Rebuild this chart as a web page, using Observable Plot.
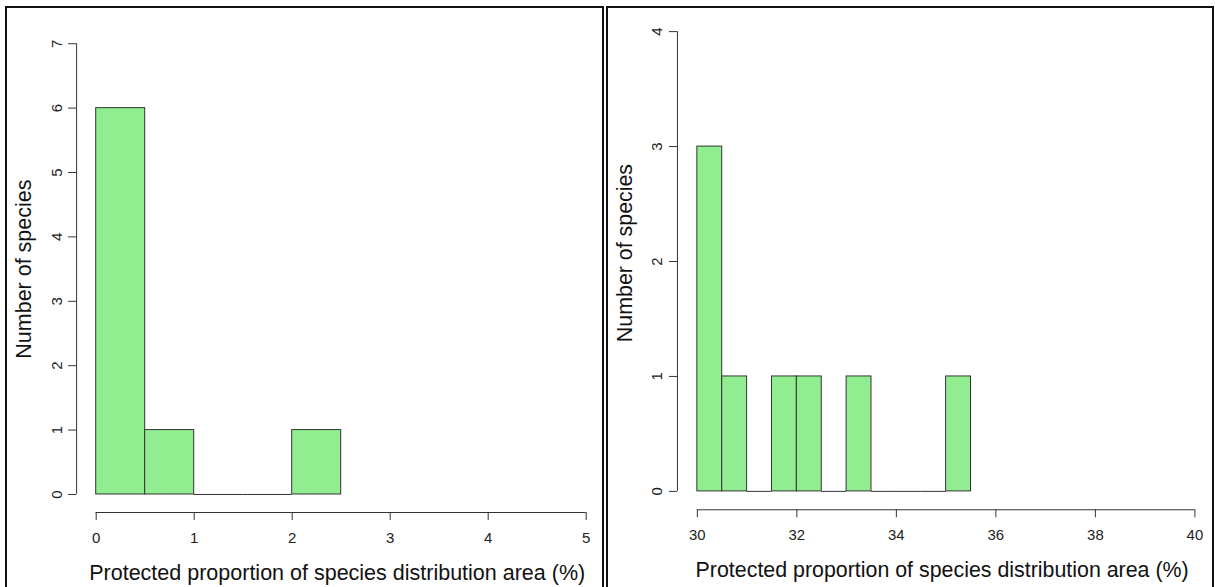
<!DOCTYPE html>
<html><head><meta charset="utf-8">
<script src="https://cdn.jsdelivr.net/npm/d3@7"></script>
<script src="https://cdn.jsdelivr.net/npm/@observablehq/plot@0.6"></script>
<style>
html,body{margin:0;padding:0;background:#fff;overflow:hidden;width:1215px;height:587px;}
.panel{position:absolute;top:0;}
.box{position:absolute;border:2px solid #111;box-sizing:border-box;pointer-events:none;}
</style></head><body>
<div id="left" class="panel" style="left:0px"></div>
<div id="right" class="panel" style="left:606px"></div>
<div class="box" style="left:5px;top:6px;width:599px;height:600px"></div>
<div class="box" style="left:606px;top:6px;width:608px;height:600px"></div>
<script>
const xTitle = "Protected proportion of species distribution area (%)";
const yTitle = "Number of species";
const binWidth = 0.5;
const leftBinStarts = [0, 0.5, 1, 1.5, 2];
const leftCounts = [6, 1, 0, 0, 1];
const leftXTicks = [0, 1, 2, 3, 4, 5];
const leftYTicks = [0, 1, 2, 3, 4, 5, 6, 7];
const rightBinStarts = [30, 30.5, 31, 31.5, 32, 32.5, 33, 33.5, 34, 34.5, 35];
const rightCounts = [3, 1, 0, 1, 1, 0, 1, 0, 0, 0, 1];
const rightXTicks = [30, 32, 34, 36, 38, 40];
const rightYTicks = [0, 1, 2, 3, 4];

const FONT = "'Liberation Sans', Arial, Helvetica, sans-serif";
const INK = "#333";

function ext(ticks) {
  const lo = d3.min(ticks), hi = d3.max(ticks), e = 0.04 * (hi - lo);
  return [lo - e, hi + e];
}

function panel(o) {
  const bins = o.starts.map((s, i) => ({x1: s, x2: s + binWidth, count: o.counts[i]}));
  const xd = ext(o.xTicks), yd = ext(o.yTicks);
  return Plot.plot({
    width: o.width, height: o.height,
    marginLeft: o.ml, marginRight: o.mr, marginTop: o.mt, marginBottom: o.mb,
    style: {fontFamily: FONT, background: "transparent", overflow: "visible"},
    x: {domain: xd}, y: {domain: yd},
    marks: [
      Plot.rectY(bins.filter(d => d.count > 0), {x1: "x1", x2: "x2", y1: 0, y2: "count", inset: 0, fill: "#90EE90", stroke: INK, strokeWidth: 1}),
      Plot.ruleY(bins.filter(d => d.count === 0), {x1: "x1", x2: "x2", y: "count", stroke: INK, strokeWidth: 1}),
      Plot.ruleX([xd[0]], {y1: d3.min(o.yTicks), y2: d3.max(o.yTicks), stroke: INK}),
      Plot.ruleY([yd[0]], {x1: d3.min(o.xTicks), x2: d3.max(o.xTicks), stroke: INK}),
      Plot.axisX({ticks: o.xTicks, tickFormat: d => String(d), tickSize: 8, tickPadding: 12, fontSize: 15, stroke: INK, fill: "#222", label: null}),
      Plot.axisY({ticks: o.yTicks, tickFormat: d => String(d), tickSize: 8, tickPadding: o.ytp, tickRotate: -90, fontSize: 15, stroke: INK, fill: "#222", label: null}),
      Plot.text([xTitle], {frameAnchor: "bottom", text: d => d, lineAnchor: "top", dy: o.xtDy, dx: -4, fontSize: 21.5, fill: "#111"}),
      Plot.text([yTitle], {frameAnchor: "left", text: d => d, rotate: -90, lineAnchor: "top", textAnchor: "middle", dx: o.ytDx, dy: o.ytDy, fontSize: 21.5, fill: "#111"})
    ]
  });
}

document.getElementById("left").appendChild(panel({
  starts: leftBinStarts, counts: leftCounts, xTicks: leftXTicks, yTicks: leftYTicks,
  width: 606, height: 587, ml: 76.1, mr: 0.7, mt: 25.2, mb: 75,
  ytp: 7, xtDy: 52.3, ytDx: -61, ytDy: 0
}));
document.getElementById("right").appendChild(panel({
  starts: rightBinStarts, counts: rightCounts, xTicks: rightXTicks, yTicks: rightYTicks,
  width: 612, height: 587, ml: 71.3, mr: 0.7, mt: 12.8, mb: 75.2,
  ytp: 8, xtDy: 52.5, ytDx: -61, ytDy: -8.5
}));
</script>
</body></html>
